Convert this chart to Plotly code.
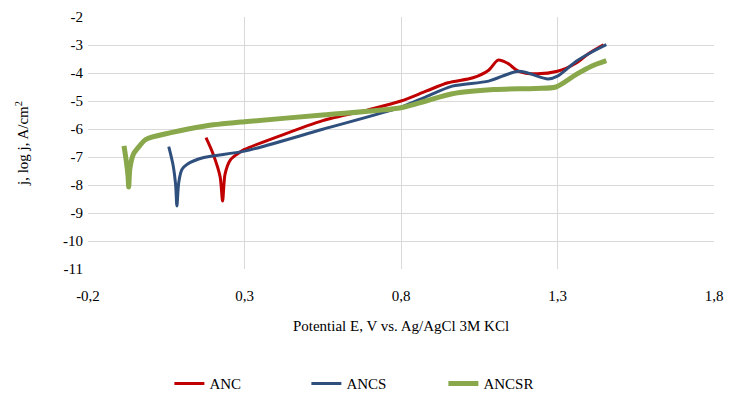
import plotly.graph_objects as go

anc_x = [0.177, 0.20, 0.222, 0.230, 0.238, 0.255, 0.276, 0.30, 0.40, 0.55, 0.70, 0.80, 0.88, 0.95, 1.03, 1.08, 1.11, 1.14, 1.176, 1.23, 1.30, 1.36, 1.40, 1.447]
anc_y = [-6.31, -6.9, -7.7, -8.57, -7.6, -7.1, -6.9, -6.73, -6.3, -5.7, -5.3, -5.0, -4.65, -4.35, -4.17, -3.9, -3.54, -3.65, -3.94, -4.03, -3.94, -3.64, -3.3, -2.99]

ancs_x = [0.058, 0.072, 0.080, 0.084, 0.090, 0.100, 0.117, 0.17, 0.30, 0.55, 0.80, 0.88, 0.964, 1.08, 1.176, 1.27, 1.30, 1.36, 1.41, 1.456]
ancs_y = [-6.63, -7.3, -8.0, -8.75, -7.9, -7.45, -7.26, -7.02, -6.79, -6.01, -5.22, -4.85, -4.47, -4.29, -3.94, -4.21, -4.11, -3.58, -3.25, -2.99]

ancsr_x = [-0.085, -0.077, -0.072, -0.070, -0.066, -0.055, -0.035, -0.015, 0.065, 0.17, 0.30, 0.55, 0.80, 0.88, 0.964, 1.096, 1.23, 1.295, 1.36, 1.41, 1.456]
ancsr_y = [-6.6, -7.2, -7.7, -8.07, -7.4, -6.9, -6.6, -6.37, -6.13, -5.9, -5.74, -5.5, -5.24, -5.0, -4.74, -4.59, -4.55, -4.5, -4.05, -3.75, -3.56]

x_ticks = [-0.2, 0.3, 0.8, 1.3, 1.8]
x_tick_text = ["-0,2", "0,3", "0,8", "1,3", "1,8"]
y_ticks = [-2, -3, -4, -5, -6, -7, -8, -9, -10, -11]
y_tick_text = ["-2", "-3", "-4", "-5", "-6", "-7", "-8", "-9", "-10", "-11"]

FAM = "Times New Roman"
font = dict(family=FAM, size=15, color="#000000")

fig = go.Figure()
fig.add_trace(go.Scatter(x=anc_x, y=anc_y, mode="lines", name="ANC",
                         line=dict(color="#C00000", width=3, shape="spline", smoothing=0.8)))
fig.add_trace(go.Scatter(x=ancs_x, y=ancs_y, mode="lines", name="ANCS",
                         line=dict(color="#2F4F7D", width=3, shape="spline", smoothing=0.8)))
fig.add_trace(go.Scatter(x=ancsr_x, y=ancsr_y, mode="lines", name="ANCSR",
                         line=dict(color="#89A84C", width=5, shape="spline", smoothing=0.8)))

fig.update_layout(
    width=716, height=387,
    margin=dict(l=80, r=10, t=9, b=126, autoexpand=False),
    paper_bgcolor="white", plot_bgcolor="white",
    font=font,
    showlegend=True,
    legend=dict(orientation="h", x=0.13, xanchor="left", y=-0.39, yanchor="top",
                font=dict(family=FAM, size=15, color="#000000"), traceorder="normal",
                entrywidth=92, entrywidthmode="pixels"),
    xaxis=dict(range=[-0.2, 1.8], tickvals=x_ticks, ticktext=x_tick_text,
               tickfont=dict(family=FAM, size=15, color="#000000"),
               showgrid=True, gridcolor="#D9D9D9", gridwidth=1,
               zeroline=False, showline=False, ticks="", ticklabelstandoff=16,
               automargin=False,
               title=dict(text="Potential E, V vs. Ag/AgCl 3M KCl",
                          font=dict(family=FAM, size=15, color="#000000"), standoff=17)),
    yaxis=dict(range=[-11, -2], tickvals=y_ticks, ticktext=y_tick_text,
               tickfont=dict(family=FAM, size=15, color="#000000"),
               showgrid=True, gridcolor="#D9D9D9", gridwidth=1,
               zeroline=False, showline=False, ticks="", ticklabelstandoff=4,
               automargin=False,
               title=dict(text="j, log j, A/cm<sup>2</sup>",
                          font=dict(family=FAM, size=15, color="#000000"), standoff=30)),
)

fig.write_html("out.html")
